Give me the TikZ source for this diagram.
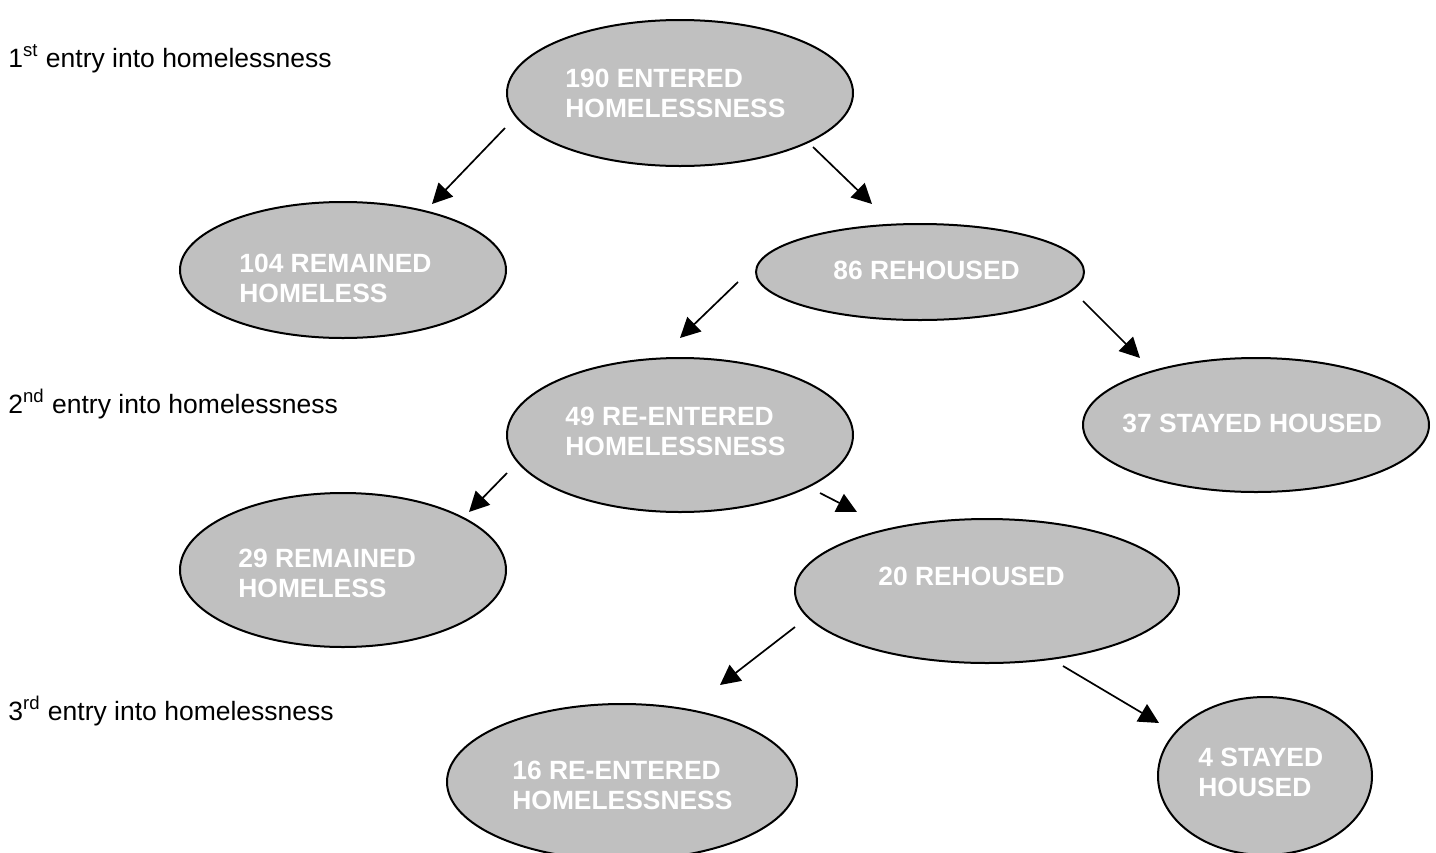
\documentclass[tikz,border=0pt]{standalone}
\usepackage{fontspec}
\setmainfont{Liberation Sans}
\usetikzlibrary{shapes.geometric,arrows.meta,calc}
\definecolor{nodegray}{HTML}{C0C0C0}
\begin{document}
\begin{tikzpicture}[x=0.5pt,y=-0.5pt,
  oval/.style={ellipse, draw=black, line width=1pt, fill=nodegray, inner sep=0pt},
  ovaltext/.style={anchor=west, align=left, inner sep=0pt, text=white, font=\fontsize{13.2}{15}\selectfont\bfseries},
  rowlabel/.style={anchor=base west, inner sep=0pt, font=\fontsize{13.25}{15}\selectfont},
  arr/.style={line width=0.85pt, -{Triangle[length=10pt,width=10pt]}}]
\useasboundingbox (0,0) rectangle (1436,852);
\clip (0,0) rectangle (1436,852);

% row labels
\node[rowlabel] (r1) at (8,67) {1\textsuperscript{st} entry into homelessness};
\node[rowlabel] (r2) at (8,413) {2\textsuperscript{nd} entry into homelessness};
\node[rowlabel] (r3) at (8,720) {3\textsuperscript{rd} entry into homelessness};

% ellipses
\node[oval, minimum width=173pt, minimum height=73pt] (e1) at (680,93) {};
\node[oval, minimum width=163pt, minimum height=68pt] (e2) at (343,270) {};
\node[oval, minimum width=164pt, minimum height=48pt] (e3) at (920,272) {};
\node[oval, minimum width=173pt, minimum height=77pt] (e4) at (680,435) {};
\node[oval, minimum width=173pt, minimum height=67pt] (e5) at (1256,425) {};
\node[oval, minimum width=163pt, minimum height=77pt] (e6) at (343,570) {};
\node[oval, minimum width=192pt, minimum height=72pt] (e7) at (987,591) {};
\node[oval, minimum width=175pt, minimum height=78pt] (e8) at (622,782) {};
\node[oval, minimum width=107pt, minimum height=79pt] (e9) at (1265,776) {};

% texts
\node[ovaltext] (t1) at (565,93) {190 ENTERED\\HOMELESSNESS};
\node[ovaltext] (t2) at (239,278) {104 REMAINED\\HOMELESS};
\node[ovaltext] (t3) at (833,270) {86 REHOUSED};
\node[ovaltext] (t4) at (565,431) {49 RE-ENTERED\\HOMELESSNESS};
\node[ovaltext] (t5) at (1122,423) {37 STAYED HOUSED};
\node[ovaltext] (t6) at (238,573) {29 REMAINED\\HOMELESS};
\node[ovaltext] (t7) at (878,576) {20 REHOUSED};
\node[ovaltext] (t8) at (512,785) {16 RE-ENTERED\\HOMELESSNESS};
\node[ovaltext] (t9) at (1198,772) {4 STAYED\\HOUSED};

% connectors
\draw[arr] ($(e1.center)+(-175,35)$) -- ($(e2.center)+(89,-66)$);
\draw[arr] ($(e1.center)+(133,54)$) -- ($(e3.center)+(-48,-68)$);
\draw[arr] ($(e3.center)+(-182,10)$) -- ($(e4.center)+(0,-97)$);
\draw[arr] ($(e3.center)+(163,29)$) -- ($(e5.center)+(-116,-67)$);
\draw[arr] ($(e4.center)+(-173,38)$) -- ($(e6.center)+(126,-58)$);
\draw[arr] ($(e4.center)+(140,58)$) -- ($(e7.center)+(-130,-79)$);
\draw[arr] ($(e7.center)+(-192,36)$) -- ($(e8.center)+(98,-97)$);
\draw[arr] ($(e7.center)+(76,75)$) -- ($(e9.center)+(-106,-53)$);
\end{tikzpicture}
\end{document}
